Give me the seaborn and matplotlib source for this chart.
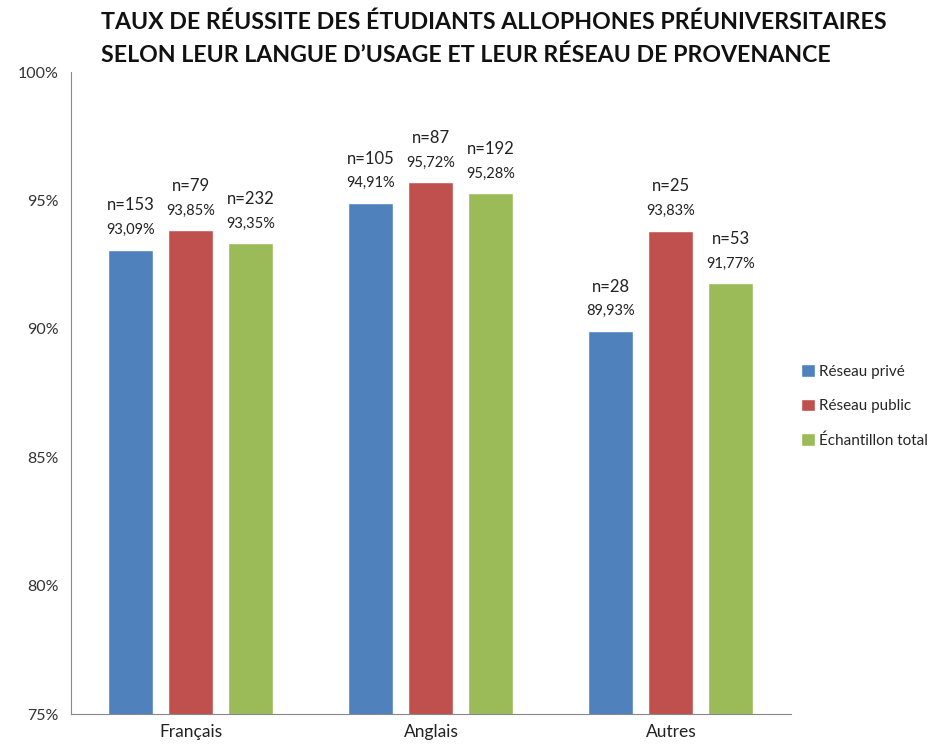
import numpy as np
import pandas as pd
import seaborn as sns
import matplotlib.pyplot as plt
from matplotlib.ticker import FixedLocator, PercentFormatter

# données du graphique
langues = ["Français", "Anglais", "Autres"]
reseaux = ["Réseau privé", "Réseau public", "Échantillon total"]
prive = [93.09, 94.91, 89.93]
public = [93.85, 95.72, 93.83]
total = [93.35, 95.28, 91.77]
n_prive = [153, 105, 28]
n_public = [79, 87, 25]
n_total = [232, 192, 53]
couleurs = ["#4F81BD", "#C0504D", "#9BBB59"]

df = pd.DataFrame({
    "langue": langues * 3,
    "reseau": [r for r in reseaux for _ in langues],
    "taux": prive + public + total,
})
effectifs = [n_prive, n_public, n_total]

sns.set_style("white")
plt.rcParams["font.family"] = ["Lato", "DejaVu Sans"]

fig = plt.figure(figsize=(9.53, 7.52), dpi=100)
ax = fig.add_axes([0.0745, 0.0505, 0.7555, 0.8535])

sns.barplot(data=df, x="langue", y="taux", hue="reseau", palette=couleurs,
            width=0.75, gap=0.25, ax=ax, saturation=1, errorbar=None)

ax.set_ylim(75, 100)
ax.set_xlim(-0.5, 2.5)
ax.set_yticks(np.arange(75, 101, 5))
ax.yaxis.set_major_formatter(PercentFormatter(decimals=0))
ax.xaxis.set_major_locator(FixedLocator([-0.5, 0.5, 1.5, 2.5]))
ax.xaxis.set_minor_locator(FixedLocator([0, 1, 2]))
ax.set_xticklabels([], minor=False)
ax.set_xticklabels(langues, minor=True)
ax.tick_params(axis="x", which="minor", length=0, labelsize=12.5, pad=7, colors="#222222")
ax.tick_params(axis="x", which="major", length=5, direction="out", color="#888888")
ax.tick_params(axis="y", length=5, direction="out", color="#888888", labelsize=11.5,
               labelcolor="#333333", pad=4)
ax.set_xlabel("")
ax.set_ylabel("")
sns.despine(ax=ax)
for s in ["left", "bottom"]:
    ax.spines[s].set_color("#888888")

# étiquettes au-dessus des barres
for cont, ns in zip(ax.containers, effectifs):
    for bar, n in zip(cont, ns):
        x = bar.get_x() + bar.get_width() / 2
        h = bar.get_height()
        ax.annotate(f"{h:.2f}%".replace(".", ","), (x, h), xytext=(0, 9),
                    textcoords="offset points", ha="center", va="bottom",
                    fontsize=10.5, color="#222222")
        ax.annotate(f"n={n}", (x, h), xytext=(0, 26), textcoords="offset points",
                    ha="center", va="bottom", fontsize=12, color="#222222")

leg = ax.legend(loc="center left", bbox_to_anchor=(0.995, 0.48), frameon=False,
                fontsize=11, handlelength=0.9, handleheight=0.9, handletextpad=0.3,
                labelspacing=1.3)

fig.text(0.106, 0.985, "TAUX DE RÉUSSITE DES ÉTUDIANTS ALLOPHONES PRÉUNIVERSITAIRES\n"
         "SELON LEUR LANGUE D’USAGE ET LEUR RÉSEAU DE PROVENANCE",
         ha="left", va="top", fontsize=16.7, fontweight="bold", linespacing=1.65,
         color="#111111")

fig.savefig("out.png", dpi=100, facecolor="white")
